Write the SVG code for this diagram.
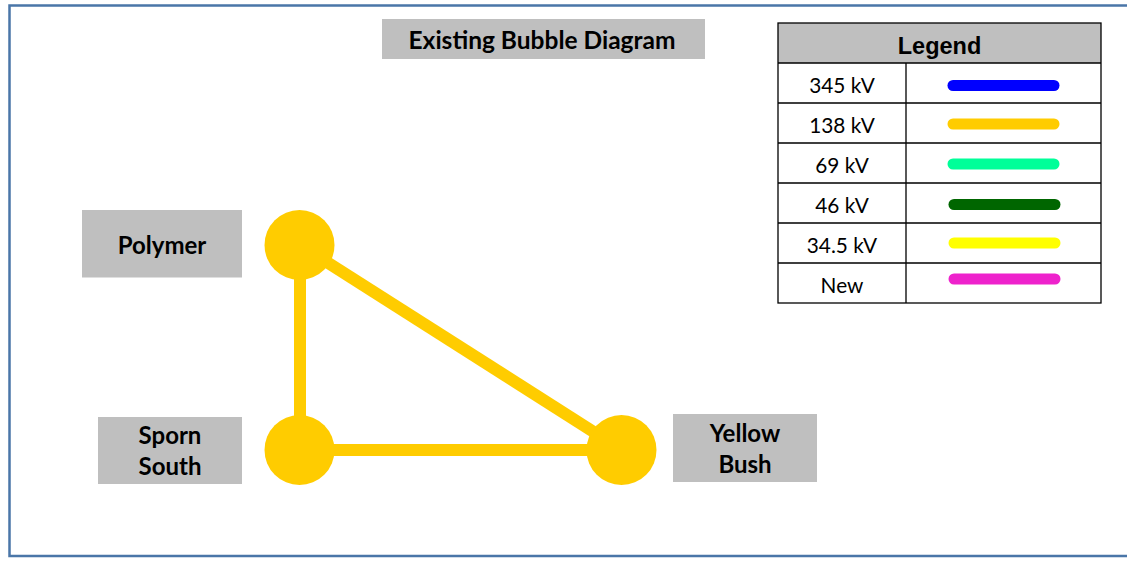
<svg xmlns="http://www.w3.org/2000/svg" width="1127" height="563" viewBox="0 0 1127 563">
<style>
.lbl{fill:#bfbfbf}
.t{font-family:Lato,"Liberation Sans",sans-serif;font-weight:bold;font-size:24px;fill:#000;text-anchor:middle}
.r{font-family:Lato,"Liberation Sans",sans-serif;font-size:20.8px;fill:#000;text-anchor:middle}
.bub{fill:#ffcc00}
.ln{stroke:#ffcc00;stroke-width:12;fill:none}
.sw{stroke-width:11;stroke-linecap:round;fill:none}
.grid{stroke:#000;stroke-width:1.3;fill:none}
</style>
<rect x="0" y="0" width="1127" height="563" fill="#fff"/>
<path d="M1130 5.5 H9.5 V556 H1130" fill="none" stroke="#4a76a8" stroke-width="2.5"/>
<g id="title">
<rect class="lbl" x="382" y="19" width="323" height="40"/>
<text class="t" x="542" y="48.5" style="font-size:24.5px">Existing Bubble Diagram</text>
</g>
<g id="legend">
<rect x="778" y="23" width="323" height="40" fill="#bfbfbf"/>
<rect class="grid" x="778" y="23" width="323" height="280"/>
<path class="grid" d="M778 63H1101M778 103H1101M778 143H1101M778 183H1101M778 223H1101M778 263H1101M906 63V303"/>
<text x="939.5" y="54" style="font-family:'Liberation Sans',Arial,sans-serif;font-weight:bold;font-size:23.5px;text-anchor:middle">Legend</text>
<text class="r" x="842" y="93">345 kV</text>
<text class="r" x="842" y="133">138 kV</text>
<text class="r" x="842" y="173">69 kV</text>
<text class="r" x="842" y="213">46 kV</text>
<text class="r" x="842" y="253">34.5 kV</text>
<text class="r" x="842" y="293">New</text>
<path class="sw" stroke="#0000ff" d="M953 85.5H1054"/>
<path class="sw" stroke="#ffcc00" d="M953 124H1054"/>
<path class="sw" stroke="#00ff99" d="M953 164H1054"/>
<path class="sw" stroke="#006600" d="M954 204.5H1055"/>
<path class="sw" stroke="#ffff00" d="M954 243H1055"/>
<path class="sw" stroke="#ee22cc" d="M954 279H1055"/>
</g>
<g id="connectors">
<path class="ln" d="M300 245V450"/>
<path class="ln" d="M300 450H622"/>
<path class="ln" d="M300 245L622 450"/>
</g>
<g id="polymer">
<circle class="bub" cx="299.5" cy="245" r="35"/>
<rect class="lbl" x="82" y="210" width="160" height="67.5"/>
<text class="t" x="162" y="253.5">Polymer</text>
</g>
<g id="sporn-south">
<circle class="bub" cx="299.5" cy="450" r="35"/>
<rect class="lbl" x="98" y="417" width="144" height="67"/>
<text class="t" x="170" y="444">Sporn</text>
<text class="t" x="170" y="475">South</text>
</g>
<g id="yellow-bush">
<circle class="bub" cx="621.5" cy="450" r="35"/>
<rect class="lbl" x="673" y="414" width="144" height="68"/>
<text class="t" x="745" y="442">Yellow</text>
<text class="t" x="745" y="473">Bush</text>
</g>
</svg>
